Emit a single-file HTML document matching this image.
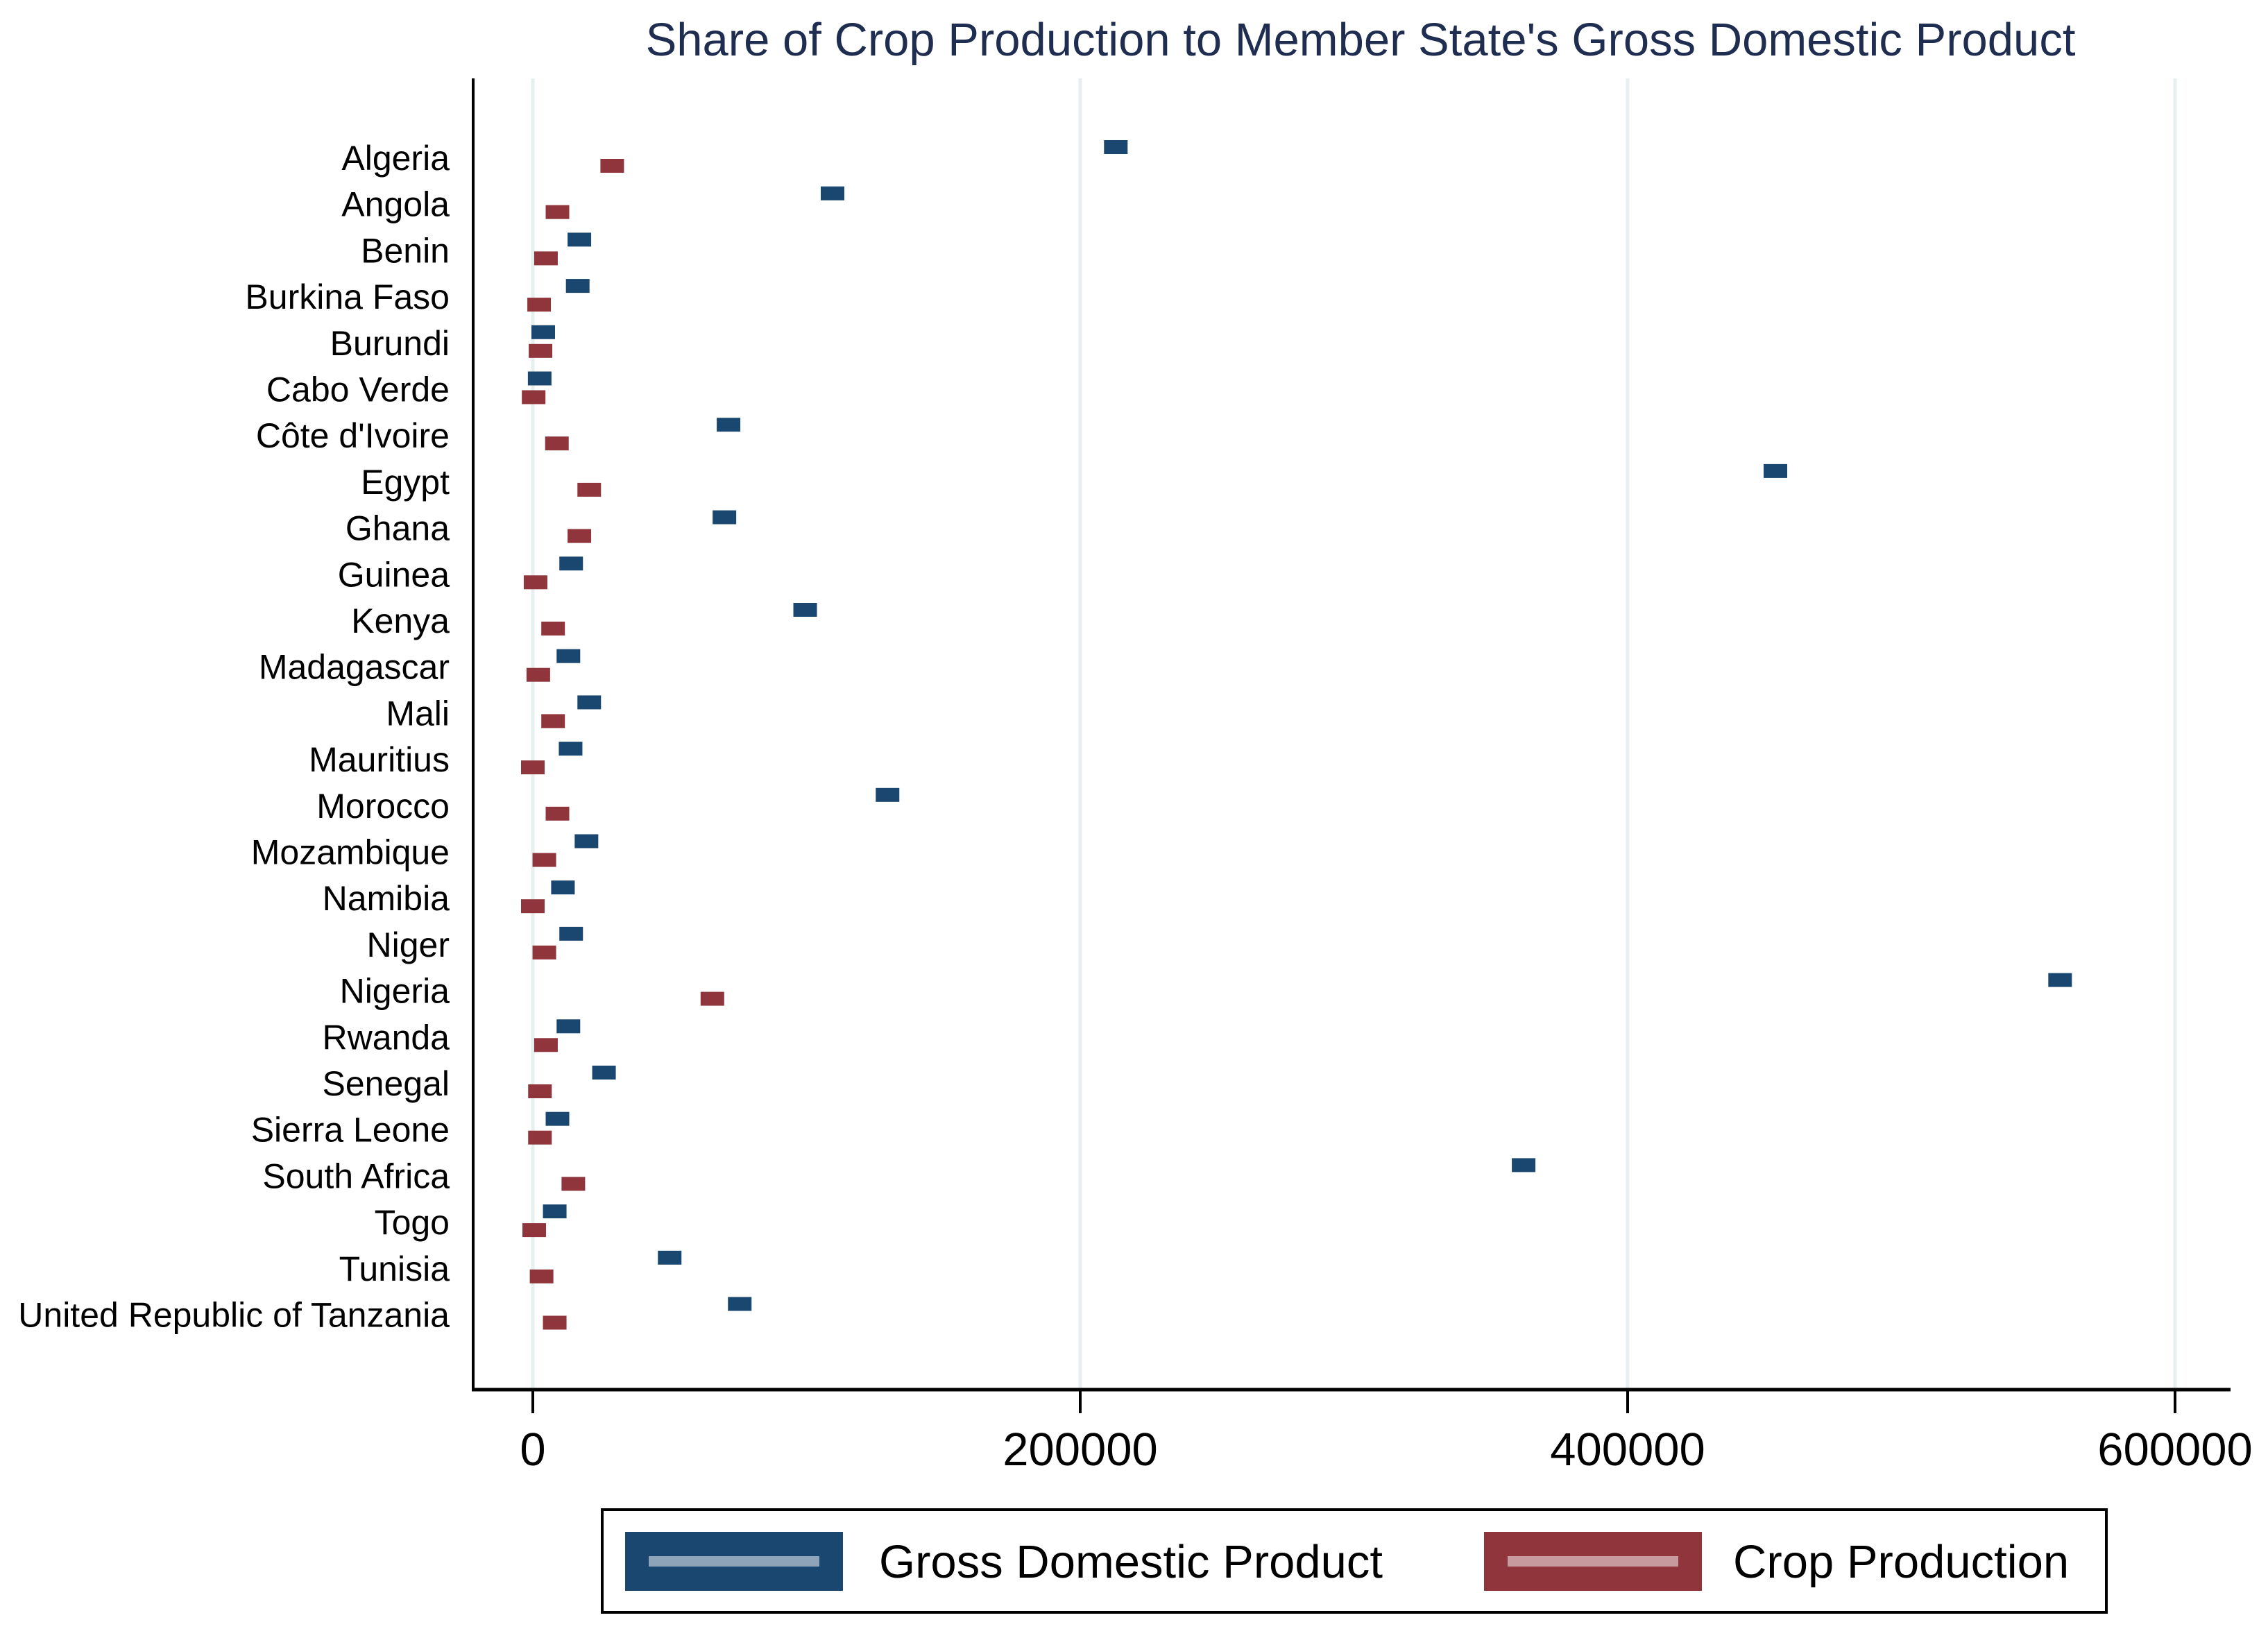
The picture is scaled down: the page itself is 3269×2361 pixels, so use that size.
<!DOCTYPE html>
<html><head><meta charset="utf-8"><style>
html,body{margin:0;padding:0;background:#fff}
svg{display:block}
text{font-family:"Liberation Sans",Arial,sans-serif}
</style></head><body>
<svg id="chart" width="3269" height="2361" viewBox="0 0 3269 2361" xmlns="http://www.w3.org/2000/svg">
<rect width="3269" height="2361" fill="#fff"/>
<text x="1961" y="80" text-anchor="middle" font-size="67" fill="#1f2d50">Share of Crop Production to Member State's Gross Domestic Product</text>
<g id="grid"></g>
<g id="ylabels"></g>
<g id="marks"></g>
<g id="xaxis"></g>
<line x1="682" y1="113" x2="682" y2="2005" stroke="#000" stroke-width="4"/>
<g>
<rect x="868" y="2176" width="2168" height="148" fill="#fff" stroke="#000" stroke-width="4"/>
<g>
<rect x="901" y="2208" width="314" height="85" fill="#1a476f"/>
<rect x="935" y="2243" width="246" height="15" fill="#8ea4b8"/>
<text x="1267" y="2274" font-size="67" fill="#000">Gross Domestic Product</text>
</g>
<g>
<rect x="2139" y="2208" width="314" height="85" fill="#90353b"/>
<rect x="2173" y="2243" width="246" height="15" fill="#c79a9d"/>
<text x="2498" y="2274" font-size="67" fill="#000">Crop Production</text>
</g>
</g>
</svg>
<script>
const countries = ["Algeria","Angola","Benin","Burkina Faso","Burundi","Cabo Verde","Côte d'Ivoire","Egypt","Ghana","Guinea","Kenya","Madagascar","Mali","Mauritius","Morocco","Mozambique","Namibia","Niger","Nigeria","Rwanda","Senegal","Sierra Leone","South Africa","Togo","Tunisia","United Republic of Tanzania"];
const gdpValues = [213000,109500,17000,16400,3800,2500,71500,454000,70000,14000,99500,13000,20600,13800,129600,19600,11000,14000,558000,13000,26000,9000,362000,8000,50000,75600];
const cropValues = [29000,9000,4800,2300,2800,300,8800,20600,17000,1000,7400,2000,7400,0,9000,4200,0,4200,65600,4800,2600,2600,14800,500,3200,8000];
const xTicks = [0,200000,400000,600000];
const xTickLabels = ["0","200000","400000","600000"];

const NS = "http://www.w3.org/2000/svg";
function xs(v){ return 768 + v * 789 / 200000; }
function ys(i){ return 228 + i * 66.7; }
function mk(tag, attrs, parent){
  const e = document.createElementNS(NS, tag);
  for (const k in attrs) e.setAttribute(k, attrs[k]);
  parent.appendChild(e); return e;
}
const grid = document.getElementById('grid');
const xaxis = document.getElementById('xaxis');
xTicks.forEach((t, i) => {
  const g = mk('line', {x1: xs(t), x2: xs(t), y1: 113, y2: 2003, stroke: '#e8eff1', 'stroke-width': 5}, grid);
  
  
  const tk = mk('line', {x1: xs(t), x2: xs(t), y1: 2003, y2: 2037, stroke: '#000', 'stroke-width': 4}, xaxis);
  
  
  const lb = mk('text', {x: xs(t), y: 2112, 'text-anchor': 'middle', 'font-size': 67, fill: '#000'}, xaxis);
  lb.textContent = xTickLabels[i];
  
  
});
const axl = mk('line', {x1: 680, x2: 3215, y1: 2003, y2: 2003, stroke: '#000', 'stroke-width': 5}, xaxis);



const yl = document.getElementById('ylabels');
const marks = document.getElementById('marks');
countries.forEach((c, i) => {
  const t = mk('text', {x: 648, y: ys(i) + 17, 'text-anchor': 'end', 'font-size': 50, fill: '#000'}, yl);
  t.textContent = c;
  
  
  const g = mk('rect', {x: xs(gdpValues[i]) - 17, y: ys(i) - 26, width: 34, height: 20, fill: '#1a476f'}, marks);
  
  
  const r = mk('rect', {x: xs(cropValues[i]) - 17, y: ys(i) + 1, width: 34, height: 20, fill: '#90353b'}, marks);
  
  
});
</script>
</body></html>
